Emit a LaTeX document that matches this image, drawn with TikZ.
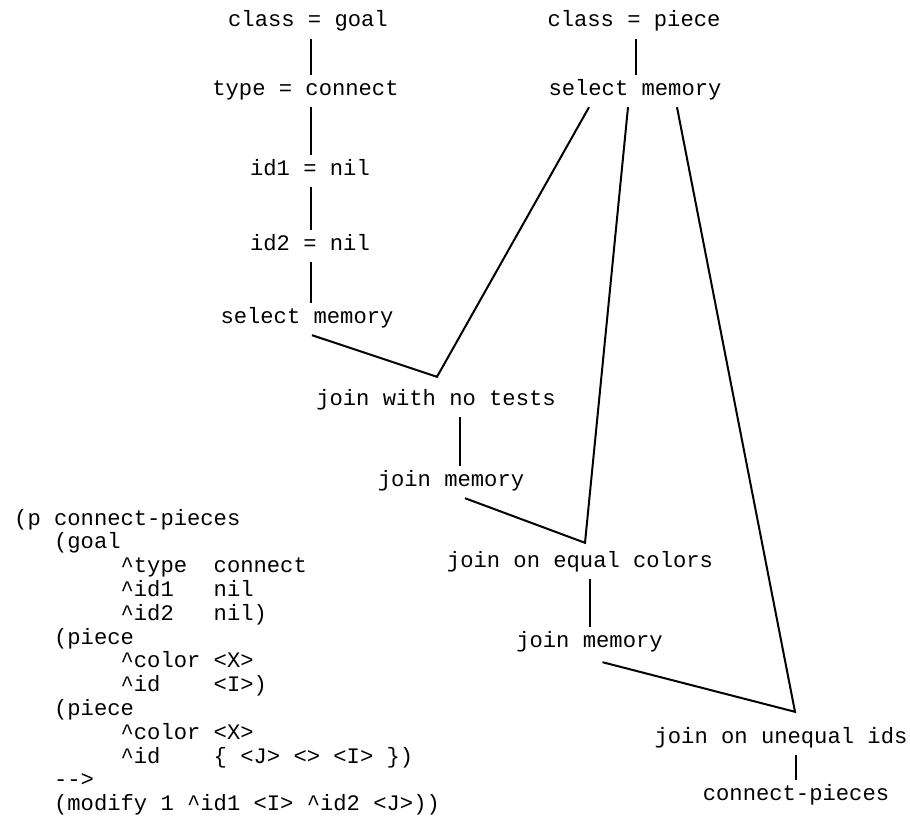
\documentclass[tikz,border=0pt]{standalone}
\usepackage{fontspec}
\newfontfamily\monof{Liberation Mono}
\tikzset{
  lbl/.style={font=\monof\fontsize{22.17}{24}\selectfont, inner sep=0pt, inner ysep=8pt,
              text height=12pt, text depth=4pt, anchor=base},
  code/.style={font=\monof\fontsize{22.17}{24}\selectfont, inner sep=0pt, anchor=base west},
  ln/.style={line width=2pt, black}
}
\newcommand{\crt}{\textasciicircum}
\begin{document}
\begin{tikzpicture}[x=1pt,y=-1pt]
\useasboundingbox (0,0) rectangle (910,819);
% goal chain
\node[lbl] (cg) at (308,27) {class = goal};
\node[lbl] (tc) at (305.5,95) {type = connect};
\node[lbl] (i1) at (310,175) {id1 = nil};
\node[lbl] (i2) at (310,250) {id2 = nil};
\node[lbl] (sm1) at (307,323) {select memory};
% piece chain
\node[lbl] (cpc) at (634,27) {class = piece};
\node[lbl] (smR) at (635,95) {select memory};
% joins
\node[lbl] (jn1) at (436,405) {join with no tests};
\node[lbl] (jm1) at (451,486) {join memory};
\node[lbl] (jeq) at (580,567) {join on equal colors};
\node[lbl] (jm2) at (589.5,647) {join memory};
\node[lbl] (jun) at (781,743) {join on unequal ids};
\node[lbl] (cp) at (796,800) {connect-pieces};
% connectors
\draw[ln] ([xshift=3pt]cg.south) -- ([xshift=3pt]cg.south |- tc.north);
\draw[ln] ([xshift=5.5pt]tc.south) -- ([xshift=5.5pt]tc.south |- i1.north);
\draw[ln] ([xshift=1pt]i1.south) -- ([xshift=1pt]i1.south |- i2.north);
\draw[ln] ([xshift=1pt]i2.south) -- ([xshift=1pt]i2.south |- sm1.north);
\draw[ln] ([xshift=2pt]cpc.south) -- ([xshift=2pt]cpc.south |- smR.north);
\draw[ln] ([xshift=5pt]sm1.south) -- ([xshift=1pt,yshift=8pt]jn1.north) -- ([xshift=-46pt]smR.south);
\draw[ln] ([xshift=14pt]jm1.south) -- ([xshift=5pt,yshift=4pt]jeq.north) -- ([xshift=-7pt]smR.south);
\draw[ln] ([xshift=13pt,yshift=-3pt]jm2.south) -- ([xshift=14pt,yshift=11pt]jun.north) -- ([xshift=42pt]smR.south);
\draw[ln] ([xshift=24pt]jn1.south) -- ([xshift=24pt]jn1.south |- jm1.north);
\draw[ln] ([xshift=10pt]jeq.south) -- ([xshift=10pt]jeq.south |- jm2.north);
\draw[ln] ([xshift=15pt]jun.south) -- ([xshift=15pt]jun.south |- cp.north);
% production text
\node[code] (c1) at (14,525) {(p~connect-pieces};
\node[code] (c2) at (53.9,548.8) {(goal};
\node[code] (c3) at (120.4,572.6) {\crt type~~connect};
\node[code] (c4) at (120.4,596.4) {\crt id1~~~nil};
\node[code] (c5) at (120.4,620.2) {\crt id2~~~nil)};
\node[code] (c6) at (53.9,644) {(piece};
\node[code] (c7) at (120.4,667.8) {\crt color~<X>};
\node[code] (c8) at (120.4,691.6) {\crt id~~~~<I>)};
\node[code] (c9) at (53.9,715.4) {(piece};
\node[code] (c10) at (120.4,739.2) {\crt color~<X>};
\node[code] (c11) at (120.4,763) {\crt id~~~~\{~<J>~<>~<I>~\})};
\node[code] (c12) at (53.9,786.8) {{-}{-}>};
\node[code] (c13) at (53.9,810.6) {(modify~1~\crt id1~<I>~\crt id2~<J>))};
\end{tikzpicture}
\end{document}
